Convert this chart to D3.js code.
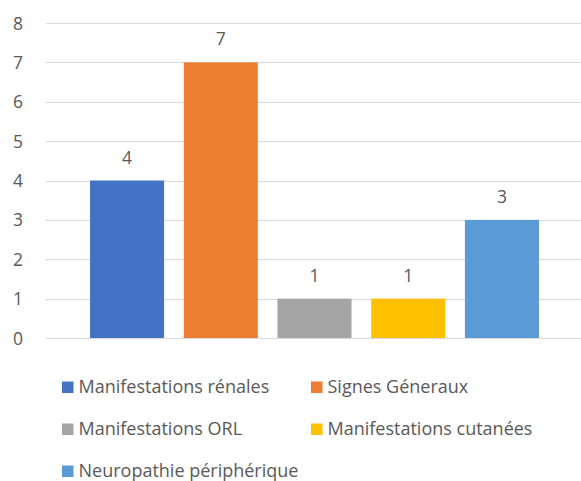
<!DOCTYPE html>
<html>
<head>
<meta charset="utf-8">
<script src="https://cdn.jsdelivr.net/npm/d3@7"></script>
<style>
  body { margin: 0; background: #fff; }
  text { font-family: "Open Sans", sans-serif; fill: #595959; }
</style>
</head>
<body>
<div id="chart"></div>
<script>
const series = ["Manifestations rénales", "Signes Géneraux", "Manifestations ORL", "Manifestations cutanées", "Neuropathie périphérique"];
const values = [4, 7, 1, 1, 3];
const colors = ["#4472C4", "#ED7D31", "#A5A5A5", "#FFC000", "#5B9BD5"];
const yTicks = [0, 1, 2, 3, 4, 5, 6, 7, 8];

const width = 581, height = 481;
const svg = d3.select("#chart").append("svg")
  .attr("width", width)
  .attr("height", height);

const x = d3.scaleBand()
  .domain(series)
  .range([46, 583])
  .paddingInner(0.21)
  .paddingOuter(0.47);

const y = d3.scaleLinear()
  .domain([0, 8])
  .range([338, 23]);

// grid
svg.append("g")
  .selectAll("line")
  .data(yTicks)
  .enter()
  .append("line")
  .attr("x1", 46)
  .attr("x2", 581)
  .attr("y1", d => Math.round(y(d)) + 0.5)
  .attr("y2", d => Math.round(y(d)) + 0.5)
  .attr("stroke", "#d9d9d9")
  .attr("stroke-width", 1);

svg.append("g")
  .selectAll("text")
  .data(yTicks)
  .enter()
  .append("text")
  .attr("x", 23)
  .attr("y", d => y(d) + 6.5)
  .attr("text-anchor", "end")
  .style("font-size", "17.5px")
  .text(d => d);

// bars
svg.append("g")
  .selectAll("rect")
  .data(series)
  .enter()
  .append("rect")
  .attr("x", d => x(d))
  .attr("y", (d, i) => y(values[i]))
  .attr("width", x.bandwidth())
  .attr("height", (d, i) => y(0) - y(values[i]))
  .attr("fill", (d, i) => colors[i]);

svg.append("g")
  .selectAll("text")
  .data(series)
  .enter()
  .append("text")
  .attr("x", d => x(d) + x.bandwidth() / 2)
  .attr("y", (d, i) => y(values[i]) - 17)
  .attr("text-anchor", "middle")
  .style("font-size", "17.5px")
  .text((d, i) => values[i]);

// legend
const legendPos = [[62, 393], [311, 393], [62, 435], [311, 435], [62, 477]];
const legend = svg.append("g")
  .selectAll("g")
  .data(series)
  .enter()
  .append("g")
  .attr("transform", (d, i) => `translate(${legendPos[i][0]}, ${legendPos[i][1]})`);

legend.append("rect")
  .attr("x", 0)
  .attr("y", -11.5)
  .attr("width", 11.5)
  .attr("height", 11.5)
  .attr("fill", (d, i) => colors[i]);

legend.append("text")
  .attr("x", 16.5)
  .attr("y", 0)
  .style("font-size", "18px")
  .text(d => d);
</script>
</body>
</html>
